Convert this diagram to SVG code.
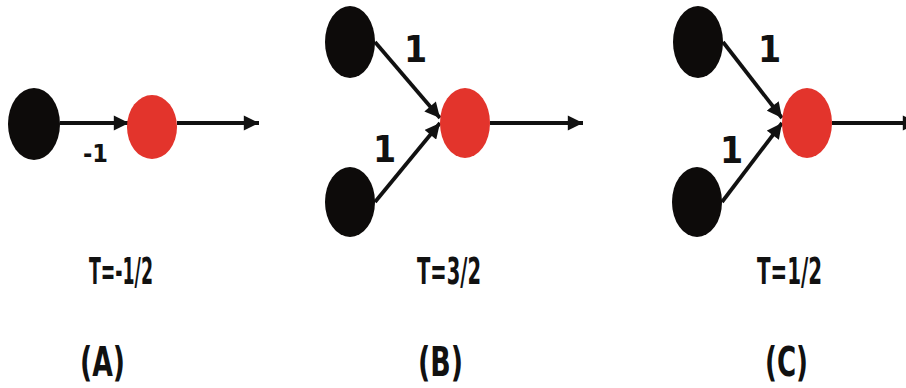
<svg xmlns="http://www.w3.org/2000/svg" width="906" height="388" viewBox="0 0 906 388">
<style>
.in{fill:#0d0b0a}
.out{fill:#e3342c}
.ln{stroke:#111;stroke-width:3.8;fill:none}
.t{font-family:"DejaVu Sans Condensed","DejaVu Sans","Liberation Sans",sans-serif;font-stretch:condensed;font-weight:bold;fill:#111}
.w{font-size:37px}
.big{font-size:38px}
.par{font-size:40px}
</style>
<defs>
<marker id="ah" viewBox="0 0 10 10" refX="10" refY="5" markerWidth="4.2" markerHeight="4" markerUnits="strokeWidth" orient="auto">
<path d="M0,0 L10,5 L0,10 z" fill="#111"/>
</marker>
</defs>
<rect width="906" height="388" fill="#fff"/>
<g id="connectors">
<line class="ln" x1="60" y1="123" x2="129" y2="123" marker-end="url(#ah)"/>
<line class="ln" x1="177" y1="123" x2="259" y2="123" marker-end="url(#ah)"/>
<line class="ln" x1="375" y1="42" x2="440" y2="118" marker-end="url(#ah)"/>
<line class="ln" x1="375" y1="202" x2="440" y2="123" marker-end="url(#ah)"/>
<line class="ln" x1="490" y1="123" x2="583" y2="123" marker-end="url(#ah)"/>
<line class="ln" x1="723" y1="42" x2="782" y2="118" marker-end="url(#ah)"/>
<line class="ln" x1="722" y1="202" x2="782" y2="123" marker-end="url(#ah)"/>
<line class="ln" x1="832" y1="123" x2="918" y2="123" marker-end="url(#ah)"/>
</g>
<g id="labels">
<text class="t" x="83" y="162" font-size="25">-1</text>
<text class="t w" x="404" y="62">1</text>
<text class="t w" x="373" y="162">1</text>
<text class="t w" x="758" y="62">1</text>
<text class="t w" x="720" y="163">1</text>
</g>
<g id="nodeA-in"><ellipse class="in" cx="34" cy="124" rx="26" ry="36"/></g>
<g id="nodeA-out"><ellipse class="out" cx="152" cy="127" rx="25" ry="32"/></g>
<g id="nodeB-in1"><ellipse class="in" cx="350" cy="42" rx="25" ry="36"/></g>
<g id="nodeB-in2"><ellipse class="in" cx="350" cy="202" rx="25" ry="35"/></g>
<g id="nodeB-out"><ellipse class="out" cx="465" cy="123" rx="25" ry="35"/></g>
<g id="nodeC-in1"><ellipse class="in" cx="698" cy="42" rx="25" ry="36"/></g>
<g id="nodeC-in2"><ellipse class="in" cx="697" cy="202" rx="25" ry="35"/></g>
<g id="nodeC-out"><ellipse class="out" cx="807" cy="123" rx="25" ry="35"/></g>
<g id="captions">
<text class="t big" x="89" y="284" textLength="64" lengthAdjust="spacingAndGlyphs">T=-1/2</text>
<text class="t big" x="417" y="284" textLength="64" lengthAdjust="spacingAndGlyphs">T=3/2</text>
<text class="t big" x="757" y="284" textLength="65" lengthAdjust="spacingAndGlyphs">T=1/2</text>
<text class="t par" x="80" y="376" textLength="45" lengthAdjust="spacingAndGlyphs">(A)</text>
<text class="t par" x="418" y="376" textLength="45" lengthAdjust="spacingAndGlyphs">(B)</text>
<text class="t par" x="765" y="376" textLength="43" lengthAdjust="spacingAndGlyphs">(C)</text>
</g>
</svg>
